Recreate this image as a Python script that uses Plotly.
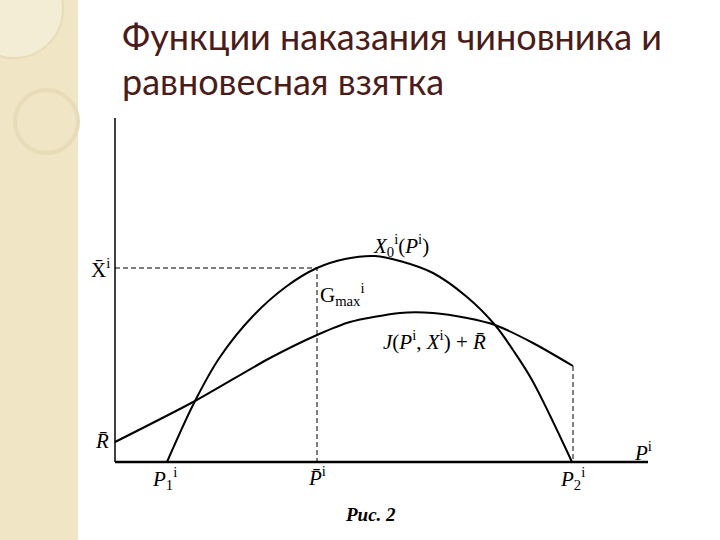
import plotly.graph_objects as go

# ---- data (units) ----
x0_p = [5.2, 8.0, 10.5, 13.8, 17.2, 20.2, 23.0, 26.0, 28.5, 31.8, 35.2, 38.0, 39.8, 41.7, 45.7]
x0_v = [0.0, 6.1, 10.5, 14.6, 17.6, 19.4, 20.3, 20.6, 20.1, 18.9, 16.5, 13.7, 11.2, 8.2, 0.0]

j_p = [0.0, 8.0, 15.5, 20.2, 23.5, 28.5, 31.8, 35.2, 38.0, 41.8, 45.8]
j_v = [2.0, 6.1, 10.4, 12.7, 14.0, 14.9, 14.9, 14.4, 13.7, 11.9, 9.6]

P1 = 5.2
P_BAR = 20.2
P2 = 45.7
X_BAR = 19.4
R_BAR = 2.0
P_AXIS_END = 53.3
V_AXIS_END = 34.4

title_line1 = "Функции наказания чиновника и"
title_line2 = "равновесная взятка"
fig_caption = "<b><i>Рис. 2</i></b>"

# whole-figure coordinate frame (10 px per unit)
X_RANGE = [-11.5, 60.5]
Y_RANGE = [-7.8, 46.2]

fig = go.Figure()

# decorative left strip
fig.add_shape(type="rect", x0=X_RANGE[0], x1=-3.7, y0=Y_RANGE[0], y1=Y_RANGE[1],
              fillcolor="#F0E5C4", line=dict(width=0), layer="below")
fig.add_shape(type="circle", x0=-10.0, x1=-3.7, y0=30.9, y1=37.2,
              fillcolor="rgba(0,0,0,0)", line=dict(color="#E8DCB8", width=4), layer="below")
fig.add_shape(type="circle", x0=-15.0, x1=-5.2, y0=40.4, y1=50.2,
              fillcolor="#F4EDD6", line=dict(color="#E8DCB8", width=2), layer="below")

# main curves
fig.add_trace(go.Scatter(x=x0_p, y=x0_v, mode="lines",
                         line=dict(color="black", width=2, shape="spline", smoothing=1.0),
                         hoverinfo="skip", showlegend=False))
fig.add_trace(go.Scatter(x=j_p, y=j_v, mode="lines",
                         line=dict(color="black", width=2, shape="spline", smoothing=0.7),
                         hoverinfo="skip", showlegend=False))

# dashed guides
fig.add_trace(go.Scatter(x=[0, P_BAR, P_BAR], y=[X_BAR, X_BAR, 0], mode="lines",
                         line=dict(color="black", width=1, dash="5px,3px"),
                         hoverinfo="skip", showlegend=False))
fig.add_trace(go.Scatter(x=[j_p[-1], j_p[-1]], y=[j_v[-1], 0], mode="lines",
                         line=dict(color="black", width=1, dash="5px,3px"),
                         hoverinfo="skip", showlegend=False))

# axes lines
fig.add_trace(go.Scatter(x=[0, P_AXIS_END], y=[0, 0], mode="lines",
                         line=dict(color="black", width=2.5),
                         hoverinfo="skip", showlegend=False))
fig.add_trace(go.Scatter(x=[0, 0], y=[0, V_AXIS_END], mode="lines",
                         line=dict(color="black", width=1.5),
                         hoverinfo="skip", showlegend=False))

serif = "Liberation Serif"

def ann(x, y, text, xanchor="center", size=21, family=serif, color="black"):
    fig.add_annotation(x=x, y=y, text=text, showarrow=False, xanchor=xanchor,
                       yanchor="middle", font=dict(color=color, size=size, family=family))

ann(-0.3, X_BAR, "X\u0304<sup>i</sup>", xanchor="right")
ann(-0.4, R_BAR + 0.1, "<i>R\u0304</i>", xanchor="right")
ann(25.6, 21.7, "<i>X</i><sub>0</sub><sup>i</sup>(<i>P</i><sup>i</sup>)", xanchor="left")
ann(20.3, 16.8, "G<sub>max</sub><sup>i</sup>", xanchor="left")
ann(26.6, 12.2, "<i>J</i>(<i>P</i><sup>i</sup>, <i>X</i><sup>i</sup>) + <i>R\u0304</i>", xanchor="left")
ann(P1 - 0.3, -1.6, "<i>P</i><sub>1</sub><sup>i</sup>")
ann(P_BAR, -1.4, "<i>P\u0304</i><sup>i</sup>")
ann(P2, -1.6, "<i>P</i><sub>2</sub><sup>i</sup>")
ann(P_AXIS_END - 0.5, 1.1, "<i>P</i><sup>i</sup>")
ann(25.5, -5.2, fig_caption, size=19)

# title lines
ann(0.5, 42.6, title_line1, xanchor="left", size=36, family="Lato", color="#4A1C1A")
ann(0.5, 38.1, title_line2, xanchor="left", size=36, family="Lato", color="#4A1C1A")

fig.update_layout(
    width=720, height=540,
    margin=dict(l=0, r=0, t=0, b=0),
    paper_bgcolor="white", plot_bgcolor="white",
    xaxis=dict(range=X_RANGE, visible=False, fixedrange=True),
    yaxis=dict(range=Y_RANGE, visible=False, fixedrange=True),
    showlegend=False,
)

fig.write_html("out.html", config={"displayModeBar": False},
               post_script="document.body.style.margin='0';")
